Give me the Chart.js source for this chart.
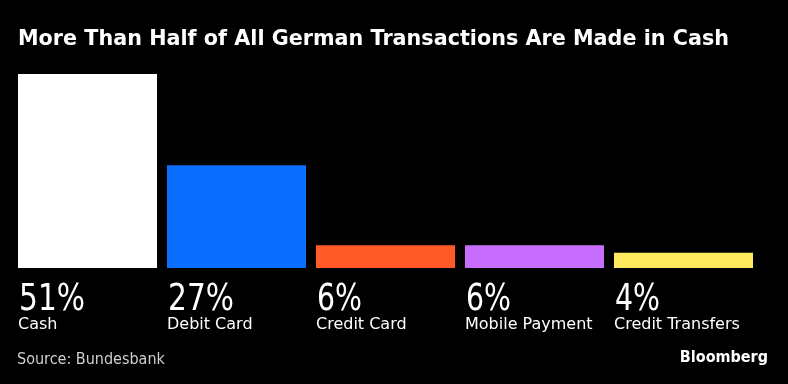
<!DOCTYPE html>
<html>
<head>
<meta charset="utf-8">
<script src="https://cdn.jsdelivr.net/npm/chart.js@4/dist/chart.umd.min.js"></script>
<style>
  html, body { margin: 0; padding: 0; background: #000; }
  #wrap { width: 788px; height: 384px; position: relative; }
</style>
</head>
<body>
<div id="wrap"><canvas id="grafico"></canvas></div>
<script>
// Datos
const categorias = ['Cash', 'Debit Card', 'Credit Card', 'Mobile Payment', 'Credit Transfers'];
const valores = [51, 27, 6, 6, 4];
const colores = ['#ffffff', '#0a6eff', '#ff5a28', '#c86eff', '#ffe95f'];

const titulo = 'More Than Half of All German Transactions Are Made in Cash';
const fuente = 'Source: Bundesbank';

// Texto ajustado a un ancho dado (comprime en horizontal si hace falta)
const textoAncho = (ctx, txt, x, y, ancho) => {
  const w = ctx.measureText(txt).width;
  const k = Math.min(1, ancho / w);
  ctx.save();
  ctx.translate(x, y);
  ctx.scale(k, 1);
  ctx.fillText(txt, 0, 0);
  ctx.restore();
};

// Textos: titulo, etiquetas bajo barras, fuente y logo
const textos = {
  id: 'textos',
  afterDraw(chart) {
    const ctx = chart.ctx;
    const meta = chart.getDatasetMeta(0);
    const base = chart.scales.y.getPixelForValue(0);
    ctx.save();
    ctx.fillStyle = '#fff';
    ctx.textBaseline = 'alphabetic';
    ctx.textAlign = 'left';
    ctx.font = 'bold 22px "DejaVu Sans"';
    textoAncho(ctx, titulo, 18, 45, 711);

    meta.data.forEach((barra, i) => {
      const izq = barra.x - barra.width / 2;
      const txt = valores[i] + '%';
      ctx.fillStyle = '#fff';
      ctx.font = '38px "DejaVu Sans"';
      textoAncho(ctx, txt, izq + 1, base + 42, String(valores[i]).length * 21 + 24);
      ctx.font = '16px "DejaVu Sans"';
      ctx.fillText(categorias[i], izq, base + 61);
    });

    ctx.fillStyle = '#d0d0d0';
    ctx.font = '16px "DejaVu Sans Condensed"';
    ctx.fillText(fuente, 17, 364);
    ctx.fillStyle = '#fff';
    ctx.font = 'bold 16px "DejaVu Sans Condensed"';
    ctx.textAlign = 'right';
    ctx.fillText('Bloomberg', 768, 362);
    ctx.restore();
  }
};

new Chart(document.getElementById('grafico').getContext('2d'), {
  type: 'bar',
  data: {
    labels: categorias,
    datasets: [{
      data: valores,
      backgroundColor: colores,
      borderWidth: 0,
      barPercentage: 0.933,
      categoryPercentage: 1
    }]
  },
  options: {
    responsive: true,
    maintainAspectRatio: false,
    animation: false,
    layout: { padding: { top: 74, bottom: 116, left: 13, right: 30 } },
    plugins: { legend: { display: false }, tooltip: { enabled: false } },
    scales: {
      x: { display: false },
      y: { display: false, min: 0, max: 51 }
    }
  },
  plugins: [textos]
});
</script>
</body>
</html>
